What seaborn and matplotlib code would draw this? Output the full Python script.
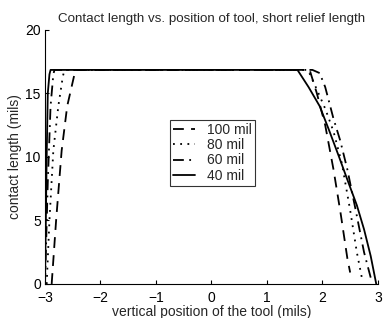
import numpy as np
import pandas as pd
import matplotlib
matplotlib.use("Agg")
import matplotlib.pyplot as plt
import seaborn as sns

# curves: x = vertical position (mils), y = contact length (mils)
x_100 = [-2.88, -2.8, -2.7, -2.6, -2.48, -2.45, 1.77, 1.9, 2.05, 2.2, 2.33, 2.45, 2.5]
y_100 = [0, 5, 10.5, 14, 16.3, 16.85, 16.85, 15, 12.5, 9, 5.5, 2, 0.9]

x_80 = [-2.97, -2.92, -2.85, -2.76, -2.68, -2.65, 1.74, 1.9, 2.05, 2.2, 2.35, 2.5, 2.62, 2.71]
y_80 = [0, 5, 10.5, 14, 16.3, 16.85, 16.85, 15.3, 13.8, 12, 9.5, 5.8, 2.5, 0.5]

x_60 = [-3.0, -2.95, -2.9, -2.85, -2.83, 1.82, 1.95, 2.05, 2.2, 2.32, 2.45, 2.6, 2.75, 2.87]
y_60 = [0, 8, 14, 16.5, 16.85, 16.85, 16.6, 15.5, 13, 11.3, 9, 5.8, 2.5, 0.5]

x_40 = [-3.0, -2.97, -2.95, -2.92, -2.9, 1.55, 1.75, 1.95, 2.12, 2.3, 2.45, 2.62, 2.75, 2.87, 2.97]
y_40 = [0, 10, 15, 16.5, 16.85, 16.85, 15.5, 14, 12.1, 10, 8.2, 6.2, 4.3, 2.2, 0]

labels = ["100 mil", "80 mil", "60 mil", "40 mil"]
xs = [x_100, x_80, x_60, x_40]
ys = [y_100, y_80, y_60, y_40]
styles = [(0, (6, 4)), (0, (1, 3)), (0, (6, 3, 1, 3)), "-"]

x_ticks = [-3, -2, -1, 0, 1, 2, 3]
y_ticks = [0, 5, 10, 15, 20]

sns.set_style("ticks")
plt.rcParams['font.family'] = ['Liberation Sans', 'DejaVu Sans']

fig = plt.figure(figsize=(3.88, 3.18), dpi=100)
ax = fig.add_axes([0.116, 0.107, 0.858, 0.799])

for xv, yv, lab, ls in zip(xs, ys, labels, styles):
    df = pd.DataFrame({"x": xv, "y": yv})
    sns.lineplot(data=df, x="x", y="y", sort=False, color="black", lw=1.3,
                 linestyle=ls, label=lab, ax=ax)

ax.set_xlim(-3, 3)
ax.set_ylim(0, 20)
ax.set_xticks(x_ticks)
ax.set_yticks(y_ticks)
ax.tick_params(direction="in", length=3, width=0.8, labelsize=10, colors="black")
ax.tick_params(axis="x", pad=5)
ax.tick_params(axis="y", pad=3)
sns.despine(ax=ax)
for s in ["left", "bottom"]:
    ax.spines[s].set_color("black")
    ax.spines[s].set_linewidth(0.8)

ax.set_xlabel("vertical position of the tool (mils)", fontsize=10, labelpad=0)
ax.set_ylabel("contact length (mils)", fontsize=10, labelpad=2)
ax.set_title("Contact length vs. position of tool, short relief length", fontsize=9.6, pad=6)

leg = ax.legend(loc="upper left", bbox_to_anchor=(0.375, 0.646), fontsize=10,
                frameon=True, fancybox=False, handlelength=1.6, borderpad=0.2,
                borderaxespad=0, labelspacing=0.1, handletextpad=0.9)
leg.get_frame().set_edgecolor("black")
leg.get_frame().set_linewidth(0.8)

fig.savefig("out.png", dpi=100)
